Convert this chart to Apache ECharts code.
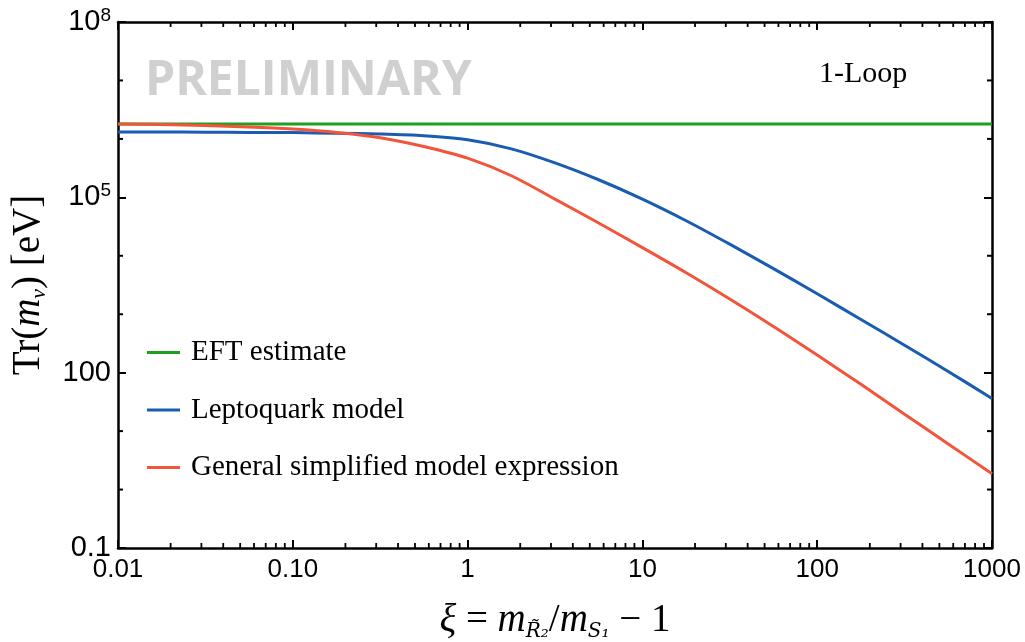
<!DOCTYPE html>
<html>
<head>
<meta charset="utf-8">
<script src="https://cdn.jsdelivr.net/npm/echarts@6/dist/echarts.min.js"></script>
<style>
  html, body { margin: 0; background: #fff; }
  #main { width: 1025px; height: 642px; }
</style>
</head>
<body>
<div id="main"></div>
<script>
// xi = m_R2 / m_S1 - 1, quarter-decade steps
const xi = [0.01, 0.0178, 0.0316, 0.0562, 0.1, 0.178, 0.316, 0.562, 1, 1.78, 3.16, 5.62, 10, 17.8, 31.6, 56.2, 100, 178, 316, 562, 1000];
// Tr(m_nu) in eV
const eftEstimate = [1.8e6, 1.8e6, 1.8e6, 1.8e6, 1.8e6, 1.8e6, 1.8e6, 1.8e6, 1.8e6, 1.8e6, 1.8e6, 1.8e6, 1.8e6, 1.8e6, 1.8e6, 1.8e6, 1.8e6, 1.8e6, 1.8e6, 1.8e6, 1.8e6];
const leptoquark = [1.31e6, 1.31e6, 1.3e6, 1.29e6, 1.28e6, 1.25e6, 1.21e6, 1.13e6, 9.66e5, 6.76e5, 3.89e5, 2.0e5, 9.33e4, 3.98e4, 1.58e4, 6.03e3, 2.24e3, 813, 295, 105, 36];
const generalModel = [1.8e6, 1.76e6, 1.69e6, 1.6e6, 1.47e6, 1.29e6, 1.05e6, 7.41e5, 4.68e5, 2.34e5, 9.33e4, 3.63e4, 1.38e4, 5.13e3, 1.82e3, 617, 200, 63.1, 19.5, 6.03, 1.86];

// tick values without labels
const xMinorTicks = [];
[0.01, 0.1, 1, 10, 100].forEach((d) => {
  for (let k = 2; k <= 9; k++) xMinorTicks.push(+(d * k).toPrecision(3));
});
const yMinorTicks = [1, 10, 1e3, 1e4, 1e6, 1e7];

const colors = ["#1f9e1f", "#1a5cb0", "#f2553a"];

const myChart = echarts.init(document.getElementById("main"));

const pair = (xs, ys) => xs.map((x, i) => [x, ys[i]]);

const frameLine = { lineStyle: { color: "#000", width: 2.5 } };
const majorTick = { inside: true, length: 8, lineStyle: { color: "#000", width: 2 } };

myChart.setOption({
  animation: false,
  textStyle: { fontFamily: "Liberation Sans" },
  grid: { left: 118, right: 33, top: 22, bottom: 94, containLabel: false, outerBoundsMode: "none" },
  title: [
    {
      text: "PRELIMINARY",
      left: 145,
      top: 57,
      padding: 0,
      textStyle: { fontFamily: "Open Sans", fontWeight: "bold", fontSize: 48, color: "#d0d0d0" },
    },
    {
      text: "1-Loop",
      left: 814,
      top: 54,
      textStyle: { fontFamily: "Liberation Serif", fontWeight: "normal", fontSize: 30, color: "#000" },
    },
  ],
  legend: {
    data: ["EFT estimate", "Leptoquark model", "General simplified model expression"],
    orient: "vertical",
    left: 147,
    top: 337,
    padding: 0,
    itemWidth: 33,
    itemHeight: 3,
    itemGap: 26.5,
    icon: "rect",
    textStyle: {
      fontFamily: "Liberation Serif",
      fontSize: 29,
      lineHeight: 31,
      color: "#000",
      padding: [0, 0, 0, 6],
    },
  },
  xAxis: [
    {
      type: "log",
      logBase: 10,
      min: 0.01,
      max: 1000,
      interval: 1,
      position: "bottom",
      axisLine: frameLine,
      axisTick: majorTick,
      axisLabel: {
        color: "#000",
        fontSize: 26,
        margin: 9,
        formatter: (v) => {
          const e = Math.round(Math.log10(v));
          return e === -2 ? "0.01" : e === -1 ? "0.10" : String(Math.pow(10, e));
        },
      },
      splitLine: { show: false },
      name: "{i|ξ}{n| = }{i|m}{s|R̃₂}{n|/}{i|m}{s|S₁}{n| − 1}",
      nameLocation: "middle",
      nameGap: 52,
      nameTextStyle: {
        rich: {
          i: { fontFamily: "Liberation Serif", fontStyle: "italic", fontSize: 39, lineHeight: 42, color: "#000" },
          n: { fontFamily: "Liberation Serif", fontSize: 39, lineHeight: 42, color: "#000" },
          s: { fontFamily: "DejaVu Serif", fontStyle: "italic", fontSize: 20, lineHeight: 24, verticalAlign: "bottom", color: "#000" },
        },
      },
    },
    {
      type: "log",
      logBase: 10,
      min: 0.01,
      max: 1000,
      interval: 1,
      position: "top",
      axisLine: frameLine,
      axisTick: majorTick,
      axisLabel: { show: false },
      splitLine: { show: false },
    },
  ],
  yAxis: [
    {
      type: "log",
      logBase: 10,
      min: 0.1,
      max: 1e8,
      interval: 3,
      position: "left",
      axisLine: frameLine,
      axisTick: majorTick,
      axisLabel: {
        color: "#000",
        margin: 7,
        formatter: (v) => {
          const e = Math.round(Math.log10(v));
          if (e === -1) return "{b|0.1}";
          if (e < 5) return "{b|" + Math.pow(10, e) + "}";
          return "{b|10}{s|" + e + "}";
        },
        rich: {
          b: { fontFamily: "Liberation Sans", fontSize: 29, lineHeight: 32, color: "#000" },
          s: { fontFamily: "Liberation Sans", fontSize: 19, lineHeight: 19, verticalAlign: "top", color: "#000" },
        },
      },
      splitLine: { show: false },
      name: "{n|Tr(}{i|m}{s|ν}{n|) [eV]}",
      nameLocation: "middle",
      nameGap: 68,
      nameRotate: 90,
      nameTextStyle: {
        rich: {
          i: { fontFamily: "Liberation Serif", fontStyle: "italic", fontSize: 39, lineHeight: 42, color: "#000" },
          n: { fontFamily: "Liberation Serif", fontSize: 39, lineHeight: 42, color: "#000" },
          s: { fontFamily: "Liberation Serif", fontStyle: "italic", fontSize: 22, lineHeight: 24, verticalAlign: "bottom", color: "#000" },
        },
      },
    },
    {
      type: "log",
      logBase: 10,
      min: 0.1,
      max: 1e8,
      interval: 3,
      position: "right",
      axisLine: frameLine,
      axisTick: majorTick,
      axisLabel: { show: false },
      splitLine: { show: false },
    },
  ],
  series: [
    {
      name: "EFT estimate",
      type: "line",
      symbol: "none",
      color: colors[0],
      lineStyle: { width: 3, color: colors[0] },
      data: pair(xi, eftEstimate),
    },
    {
      name: "Leptoquark model",
      type: "line",
      symbol: "none",
      smooth: 0.3,
      color: colors[1],
      lineStyle: { width: 3, color: colors[1] },
      data: pair(xi, leptoquark),
    },
    {
      name: "General simplified model expression",
      type: "line",
      symbol: "none",
      smooth: 0.3,
      color: colors[2],
      lineStyle: { width: 3, color: colors[2] },
      data: pair(xi, generalModel),
    },
    {
      // minor ticks on bottom and top axes
      type: "custom",
      silent: true,
      z: 5,
      data: xMinorTicks.map((v) => [v, 1]),
      renderItem: (params, api) => {
        const v = api.value(0);
        const b = api.coord([v, 0.1]);
        const t = api.coord([v, 1e8]);
        const st = { stroke: "#000", lineWidth: 1.8 };
        return {
          type: "group",
          children: [
            { type: "line", shape: { x1: b[0], y1: b[1], x2: b[0], y2: b[1] - 5 }, style: st },
            { type: "line", shape: { x1: t[0], y1: t[1], x2: t[0], y2: t[1] + 5 }, style: st },
          ],
        };
      },
    },
    {
      // unlabeled decade ticks on left and right axes
      type: "custom",
      silent: true,
      z: 5,
      data: yMinorTicks.map((v) => [1, v]),
      renderItem: (params, api) => {
        const v = api.value(1);
        const l = api.coord([0.01, v]);
        const r = api.coord([1000, v]);
        const st = { stroke: "#000", lineWidth: 2 };
        return {
          type: "group",
          children: [
            { type: "line", shape: { x1: l[0], y1: l[1], x2: l[0] + 5, y2: l[1] }, style: st },
            { type: "line", shape: { x1: r[0], y1: r[1], x2: r[0] - 5, y2: r[1] }, style: st },
          ],
        };
      },
    },
  ],
});
</script>
</body>
</html>
